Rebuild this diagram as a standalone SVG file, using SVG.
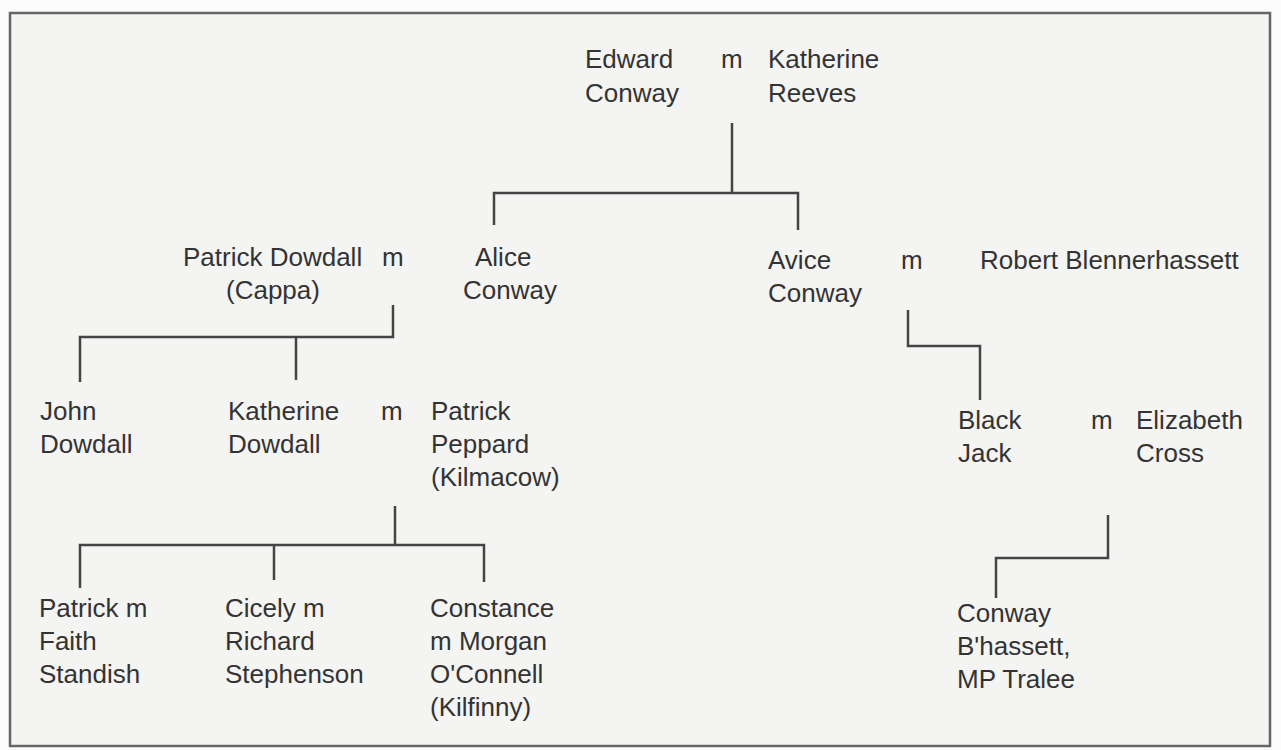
<svg xmlns="http://www.w3.org/2000/svg" width="1281" height="750" viewBox="0 0 1281 750">
<style>
text{font-family:"Liberation Sans",Arial,sans-serif;font-size:26px;fill:#333}
.ln{stroke:#444;stroke-width:2.5;fill:none}
</style>
<rect x="0" y="0" width="1281" height="750" fill="#fbfbfb"/>
<rect x="10" y="13" width="1260" height="733" fill="#f4f4f2" stroke="#666" stroke-width="2.5"/>
<g id="edward"><text x="585" y="68">Edward</text><text x="585" y="102">Conway</text></g>
<g id="m1"><text x="721" y="68">m</text></g>
<g id="katherine-reeves"><text x="768" y="68">Katherine</text><text x="768" y="102">Reeves</text></g>
<g id="patrick-dowdall"><text x="183" y="266">Patrick Dowdall</text><text x="226" y="299">(Cappa)</text></g>
<g id="m0"><text x="382" y="266">m</text></g>
<g id="alice"><text x="475" y="266">Alice</text><text x="463" y="299">Conway</text></g>
<g id="avice"><text x="768" y="269">Avice</text><text x="768" y="302">Conway</text></g>
<g id="m2"><text x="901" y="269">m</text></g>
<g id="robert"><text x="980" y="269">Robert Blennerhassett</text></g>
<g id="john"><text x="40" y="420">John</text><text x="40" y="453">Dowdall</text></g>
<g id="katherine-dowdall"><text x="228" y="420">Katherine</text><text x="228" y="453">Dowdall</text></g>
<g id="m3"><text x="381" y="420">m</text></g>
<g id="patrick-peppard"><text x="431" y="420">Patrick</text><text x="431" y="453">Peppard</text><text x="431" y="486">(Kilmacow)</text></g>
<g id="black-jack"><text x="958" y="429">Black</text><text x="958" y="462">Jack</text></g>
<g id="m4"><text x="1091" y="429">m</text></g>
<g id="elizabeth"><text x="1136" y="429">Elizabeth</text><text x="1136" y="462">Cross</text></g>
<g id="patrick-faith"><text x="39" y="617">Patrick m</text><text x="39" y="650">Faith</text><text x="39" y="683">Standish</text></g>
<g id="cicely"><text x="225" y="617">Cicely m</text><text x="225" y="650">Richard</text><text x="225" y="683">Stephenson</text></g>
<g id="constance"><text x="430" y="617">Constance</text><text x="430" y="650">m Morgan</text><text x="430" y="683">O'Connell</text><text x="430" y="716">(Kilfinny)</text></g>
<g id="conway-bhassett"><text x="957" y="622">Conway</text><text x="957" y="655">B'hassett,</text><text x="957" y="688">MP Tralee</text></g>
<g id="connectors" class="ln">
<path d="M732 123V193M494 225V193H798V230"/>
<path d="M393 305V337H80V382M296 337V380"/>
<path d="M908 310V346H980V400"/>
<path d="M395 506V545M80 588V545H484V582M274 545V580"/>
<path d="M1108 515V558H996V598"/>
</g>
</svg>
